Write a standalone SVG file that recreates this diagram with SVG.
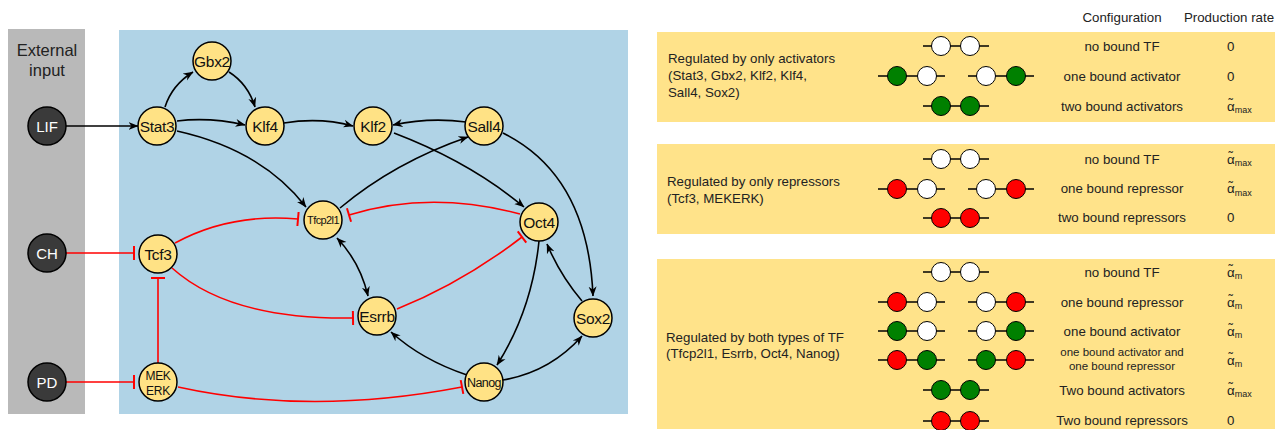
<svg xmlns="http://www.w3.org/2000/svg" width="1285" height="430" viewBox="0 0 1285 430">
  <style>
    .tf circle { fill: #ffe285; stroke: #000; stroke-width: 1.5; }
    .tf text { font-family: "Liberation Sans", Arial, sans-serif; font-size: 15.5px; letter-spacing: -0.3px; fill: #111; text-anchor: middle; }
    .ext circle { fill: #3a3a3a; stroke: #000; stroke-width: 1.5; }
    .ext text { font-family: "Liberation Sans", Arial, sans-serif; font-size: 15px; fill: #fff; text-anchor: middle; }
    .act { fill: none; stroke: #000; stroke-width: 1.6; marker-end: url(#arrow); }
    .inh { fill: none; stroke: #ff0000; stroke-width: 1.6; marker-end: url(#tee); }
    .lbl { font-family: "Liberation Sans", Arial, sans-serif; font-size: 13.3px; fill: #222; }
    .cfg { font-family: "Liberation Sans", Arial, sans-serif; font-size: 13.3px; fill: #222; text-anchor: middle; }
    .small { font-size: 11.5px; }
    .sub { font-size: 9px; }
    .site { stroke: #000; stroke-width: 1; }
    .w { fill: #fff; }
    .g { fill: #008000; }
    .r { fill: #ff0000; }
    .bar { stroke: #000; stroke-width: 1.5; }
  </style>
  <defs>
    <marker id="arrow" viewBox="0 0 10 10" refX="9.5" refY="5" markerWidth="10" markerHeight="10" markerUnits="userSpaceOnUse" orient="auto-start-reverse">
      <path d="M0,1 L10,5 L0,9 L3,5 z" fill="#000"/>
    </marker>
    <marker id="tee" viewBox="-2 -8 4 16" refX="0" refY="0" markerWidth="4" markerHeight="16" markerUnits="userSpaceOnUse" orient="auto">
      <path d="M0,-7 L0,7" stroke="#ff0000" stroke-width="2"/>
    </marker>
  </defs>

  <!-- background panels -->
  <rect x="8" y="29" width="77" height="385" fill="#b9b9b9"/>
  <rect x="119" y="30" width="509" height="384" fill="#b0d3e6"/>
  <text x="47" y="56" font-family="Liberation Sans, Arial, sans-serif" font-size="16.5" fill="#222" text-anchor="middle">External</text>
  <text x="47" y="76" font-family="Liberation Sans, Arial, sans-serif" font-size="16.5" fill="#222" text-anchor="middle">input</text>

  <!-- connectors -->
  <g id="edges">
    <path class="act" d="M66,126 L138,126"/>
    <path class="act" d="M165,107 Q172,85 193,72"/>
    <path class="act" d="M229,72 Q248,84 255,107"/>
    <path class="act" d="M177,121 Q210,117 245,125"/>
    <path class="act" d="M284,123 Q320,117 353,126"/>
    <path class="act" d="M466,122 Q430,117 393,125"/>
    <path class="act" d="M177,131 Q262,150 306,207"/>
    <path class="act" d="M340,208 Q395,162 468,137"/>
    <path class="act" d="M394,133 Q470,162 524,207"/>
    <path class="act" d="M503,133 Q588,175 593,296"/>
    <path class="act" d="M337,238 Q360,262 368,296" marker-start="url(#arrow)"/>
    <path class="act" d="M539,241 Q532,310 497,365"/>
    <path class="act" d="M582,301 Q560,275 547,244"/>
    <path class="act" d="M467,375 Q422,360 391,332"/>
    <path class="act" d="M503,380 Q550,372 582,336"/>

    <path class="inh" d="M66,253 L134,253"/>
    <path class="inh" d="M66,382 L134,382"/>
    <path class="inh" d="M158,363 L158,278"/>
    <path class="inh" d="M175,243 Q230,213 298,219"/>
    <path class="inh" d="M520,214 Q430,190 349,215"/>
    <path class="inh" d="M172,268 Q230,320 353,318"/>
    <path class="inh" d="M397,309 Q462,283 522,237"/>
    <path class="inh" d="M178,387 Q310,416 462,387"/>
  </g>

  <!-- external inputs -->
  <g id="LIF" class="ext"><circle cx="47" cy="126" r="19"/><text x="47" y="131.5">LIF</text></g>
  <g id="CH" class="ext"><circle cx="47" cy="253" r="19"/><text x="47" y="258.5">CH</text></g>
  <g id="PD" class="ext"><circle cx="47" cy="382" r="19"/><text x="47" y="387.5">PD</text></g>

  <!-- transcription factors -->
  <g id="Stat3" class="tf"><circle cx="157" cy="126" r="19"/><text x="157" y="131.5">Stat3</text></g>
  <g id="Gbx2" class="tf"><circle cx="212" cy="61" r="19"/><text x="212" y="66.5">Gbx2</text></g>
  <g id="Klf4" class="tf"><circle cx="265" cy="126" r="19"/><text x="265" y="131.5">Klf4</text></g>
  <g id="Klf2" class="tf"><circle cx="373" cy="126" r="19"/><text x="373" y="131.5">Klf2</text></g>
  <g id="Sall4" class="tf"><circle cx="484" cy="126" r="19"/><text x="484" y="131.5">Sall4</text></g>
  <g id="Tfcp2l1" class="tf"><circle cx="323" cy="220" r="19"/><text x="323" y="224" style="font-size:11px;letter-spacing:-0.6px">Tfcp2l1</text></g>
  <g id="Oct4" class="tf"><circle cx="539" cy="222" r="19"/><text x="539" y="227.5">Oct4</text></g>
  <g id="Tcf3" class="tf"><circle cx="158" cy="254" r="19"/><text x="158" y="259.5">Tcf3</text></g>
  <g id="MEKERK" class="tf"><circle cx="158" cy="382" r="19"/><text x="158" y="380" style="font-size:12px;letter-spacing:-0.3px">MEK</text><text x="158" y="395" style="font-size:12px;letter-spacing:-0.3px">ERK</text></g>
  <g id="Esrrb" class="tf"><circle cx="377" cy="316" r="19"/><text x="377" y="321.5">Esrrb</text></g>
  <g id="Sox2" class="tf"><circle cx="593" cy="318" r="19"/><text x="593" y="323.5">Sox2</text></g>
  <g id="Nanog" class="tf"><circle cx="484" cy="382" r="19"/><text x="484" y="386.5" style="font-size:12.5px;letter-spacing:-0.6px">Nanog</text></g>

  <!-- table of promoter configurations -->
  <text class="cfg" x="1122" y="22">Configuration</text>
  <text class="cfg" x="1229" y="22">Production rate</text>

  <rect x="657" y="32" width="618" height="90" fill="#ffe38a"/>
  <rect x="657" y="144" width="618" height="90" fill="#ffe38a"/>
  <rect x="657" y="259" width="618" height="170" fill="#ffe38a"/>

  <g id="panel-activators">
    <text class="lbl" x="668" y="63">Regulated by only activators</text>
    <text class="lbl" x="668" y="80">(Stat3, Gbx2, Klf2, Klf4,</text>
    <text class="lbl" x="668" y="97">Sall4, Sox2)</text>

    <line class="bar" x1="923" y1="46" x2="989" y2="46"/>
    <circle class="site w" cx="941" cy="46" r="9.5"/><circle class="site w" cx="970" cy="46" r="9.5"/>
    <line class="bar" x1="878" y1="76" x2="945" y2="76"/>
    <circle class="site g" cx="897" cy="76" r="9.5"/><circle class="site w" cx="927" cy="76" r="9.5"/>
    <line class="bar" x1="968" y1="76" x2="1034" y2="76"/>
    <circle class="site w" cx="986" cy="76" r="9.5"/><circle class="site g" cx="1016" cy="76" r="9.5"/>
    <line class="bar" x1="923" y1="106" x2="989" y2="106"/>
    <circle class="site g" cx="941" cy="106" r="9.5"/><circle class="site g" cx="970" cy="106" r="9.5"/>

    <text class="cfg" x="1122" y="50.5">no bound TF</text>
    <text class="cfg" x="1122" y="80.5">one bound activator</text>
    <text class="cfg" x="1122" y="110.5">two bound activators</text>

    <text class="lbl" x="1227" y="50.5">0</text>
    <text class="lbl" x="1227" y="80.5">0</text>
    <text class="lbl" x="1227" y="110.5">α<tspan dx="-6.3" dy="-2.5">˜</tspan><tspan class="sub" dx="2" dy="5">max</tspan></text>
  </g>

  <g id="panel-repressors">
    <text class="lbl" x="667" y="186">Regulated by only repressors</text>
    <text class="lbl" x="667" y="203">(Tcf3, MEKERK)</text>

    <line class="bar" x1="923" y1="159" x2="989" y2="159"/>
    <circle class="site w" cx="941" cy="159" r="9.5"/><circle class="site w" cx="970" cy="159" r="9.5"/>
    <line class="bar" x1="878" y1="189" x2="945" y2="189"/>
    <circle class="site r" cx="897" cy="189" r="9.5"/><circle class="site w" cx="927" cy="189" r="9.5"/>
    <line class="bar" x1="968" y1="189" x2="1034" y2="189"/>
    <circle class="site w" cx="986" cy="189" r="9.5"/><circle class="site r" cx="1016" cy="189" r="9.5"/>
    <line class="bar" x1="923" y1="218" x2="989" y2="218"/>
    <circle class="site r" cx="941" cy="218" r="9.5"/><circle class="site r" cx="970" cy="218" r="9.5"/>

    <text class="cfg" x="1122" y="163.5">no bound TF</text>
    <text class="cfg" x="1122" y="193">one bound repressor</text>
    <text class="cfg" x="1122" y="222">two bound repressors</text>

    <text class="lbl" x="1227" y="163.5">α<tspan dx="-6.3" dy="-2.5">˜</tspan><tspan class="sub" dx="2" dy="5">max</tspan></text>
    <text class="lbl" x="1227" y="193">α<tspan dx="-6.3" dy="-2.5">˜</tspan><tspan class="sub" dx="2" dy="5">max</tspan></text>
    <text class="lbl" x="1227" y="222">0</text>
  </g>

  <g id="panel-both">
    <text class="lbl" x="666" y="342">Regulated by both types of TF</text>
    <text class="lbl" x="666" y="358">(Tfcp2l1, Esrrb, Oct4, Nanog)</text>

    <line class="bar" x1="923" y1="272" x2="989" y2="272"/>
    <circle class="site w" cx="941" cy="272" r="9.5"/><circle class="site w" cx="970" cy="272" r="9.5"/>

    <line class="bar" x1="878" y1="302" x2="945" y2="302"/>
    <circle class="site r" cx="897" cy="302" r="9.5"/><circle class="site w" cx="927" cy="302" r="9.5"/>
    <line class="bar" x1="968" y1="302" x2="1034" y2="302"/>
    <circle class="site w" cx="986" cy="302" r="9.5"/><circle class="site r" cx="1016" cy="302" r="9.5"/>

    <line class="bar" x1="878" y1="331" x2="945" y2="331"/>
    <circle class="site g" cx="897" cy="331" r="9.5"/><circle class="site w" cx="927" cy="331" r="9.5"/>
    <line class="bar" x1="968" y1="331" x2="1034" y2="331"/>
    <circle class="site w" cx="986" cy="331" r="9.5"/><circle class="site g" cx="1016" cy="331" r="9.5"/>

    <line class="bar" x1="878" y1="360" x2="945" y2="360"/>
    <circle class="site r" cx="897" cy="360" r="9.5"/><circle class="site g" cx="927" cy="360" r="9.5"/>
    <line class="bar" x1="968" y1="360" x2="1034" y2="360"/>
    <circle class="site g" cx="986" cy="360" r="9.5"/><circle class="site r" cx="1016" cy="360" r="9.5"/>

    <line class="bar" x1="923" y1="390" x2="989" y2="390"/>
    <circle class="site g" cx="941" cy="390" r="9.5"/><circle class="site g" cx="970" cy="390" r="9.5"/>

    <line class="bar" x1="923" y1="421" x2="989" y2="421"/>
    <circle class="site r" cx="941" cy="421" r="9.5"/><circle class="site r" cx="970" cy="421" r="9.5"/>

    <text class="cfg" x="1122" y="276.5">no bound TF</text>
    <text class="cfg" x="1122" y="306.5">one bound repressor</text>
    <text class="cfg" x="1122" y="335.5">one bound activator</text>
    <text class="cfg small" x="1122" y="356">one bound activator and</text>
    <text class="cfg small" x="1122" y="370">one bound repressor</text>
    <text class="cfg" x="1122" y="394.5">Two bound activators</text>
    <text class="cfg" x="1122" y="425">Two bound repressors</text>

    <text class="lbl" x="1227" y="276.5">α<tspan dx="-6.3" dy="-2.5">˜</tspan><tspan class="sub" dx="2" dy="5">m</tspan></text>
    <text class="lbl" x="1227" y="306.5">α<tspan dx="-6.3" dy="-2.5">˜</tspan><tspan class="sub" dx="2" dy="5">m</tspan></text>
    <text class="lbl" x="1227" y="335.5">α<tspan dx="-6.3" dy="-2.5">˜</tspan><tspan class="sub" dx="2" dy="5">m</tspan></text>
    <text class="lbl" x="1227" y="364.5">α<tspan dx="-6.3" dy="-2.5">˜</tspan><tspan class="sub" dx="2" dy="5">m</tspan></text>
    <text class="lbl" x="1227" y="394.5">α<tspan dx="-6.3" dy="-2.5">˜</tspan><tspan class="sub" dx="2" dy="5">max</tspan></text>
    <text class="lbl" x="1227" y="425">0</text>
  </g>
</svg>
